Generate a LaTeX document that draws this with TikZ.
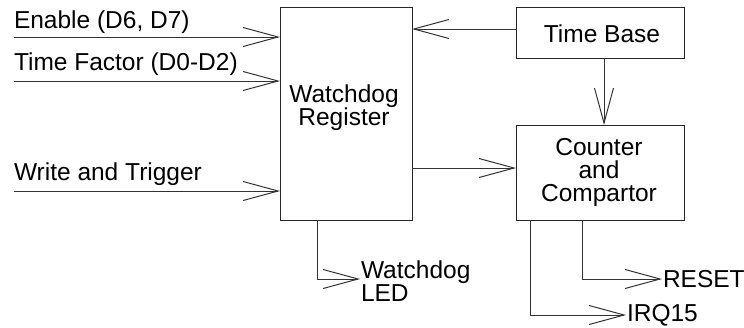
\documentclass[tikz,border=0pt]{standalone}
\usepackage{fontspec}
\setmainfont{Liberation Sans}
\usetikzlibrary{arrows.meta}
\begin{document}
\begin{tikzpicture}[x=1bp,y=-1bp,
  blk/.style={draw=black!85, line width=1bp, inner sep=0pt, outer sep=0pt},
  conn/.style={draw=black!80, line width=1bp, -{Straight Barb[length=35bp,width=19bp,line width=1bp]}},
  lbl/.style={inner sep=0pt, outer sep=0pt, font=\fontsize{24.5bp}{23bp}\selectfont},
  ]
\useasboundingbox (0,0) rectangle (744,327);
% boxes
\node[blk, minimum width=132bp, minimum height=213bp] (wr) at (346,113.5) {};
\node[blk, minimum width=168bp, minimum height=51bp] (tb) at (600,32.5) {};
\node[blk, minimum width=168bp, minimum height=95bp] (cc) at (600,172.5) {};
% box texts
\node[lbl, align=center] (wrt) at (344,108) {Watchdog\\Register};
\node[lbl] (tbt) at (602,33.5) {Time Base};
\node[lbl, align=center] (cct) at (599,172) {Counter\\and\\Compartor};
% input labels
\node[lbl, anchor=base west] (en) at (14,28) {Enable (D6, D7)};
\node[lbl, anchor=base west] (tf) at (14,70) {Time Factor (D0-D2)};
\node[lbl, anchor=base west] (wt) at (14,180) {Write and Trigger};
% output labels
\node[lbl, anchor=north west, align=left] (led) at (361,261) {Watchdog\\LED};
\node[lbl, anchor=west] (rst) at (663,279) {RESET};
\node[lbl, anchor=west] (irq) at (627,315) {IRQ15};
% free ends
\coordinate (ens) at (14,37);
\coordinate (tfs) at (14,81);
\coordinate (wts) at (14,191);
\coordinate (ledend) at (360,279);
% connectors
\draw[conn] (ens) -- (ens -| wr.west);
\draw[conn] (tfs) -- (tfs -| wr.west);
\draw[conn] (wts) -- (wts -| wr.west);
\draw[conn] ([yshift=3.5bp]tb.west) -- ([yshift=3.5bp]tb.west -| wr.east);
\draw[conn] ([xshift=4bp]tb.south) -- ([xshift=4bp]tb.south |- cc.north);
\draw[conn] ([yshift=4.5bp]wr.east |- cc.west) -- ([yshift=4.5bp]cc.west);
\draw[conn] ([xshift=-29bp]wr.south) |- (ledend);
\draw[conn] ([xshift=-18bp]cc.south) |- ([xshift=-1bp]rst.west);
\draw[conn] ([xshift=-70bp]cc.south) |- ([xshift=-1bp]irq.west);
\end{tikzpicture}
\end{document}
